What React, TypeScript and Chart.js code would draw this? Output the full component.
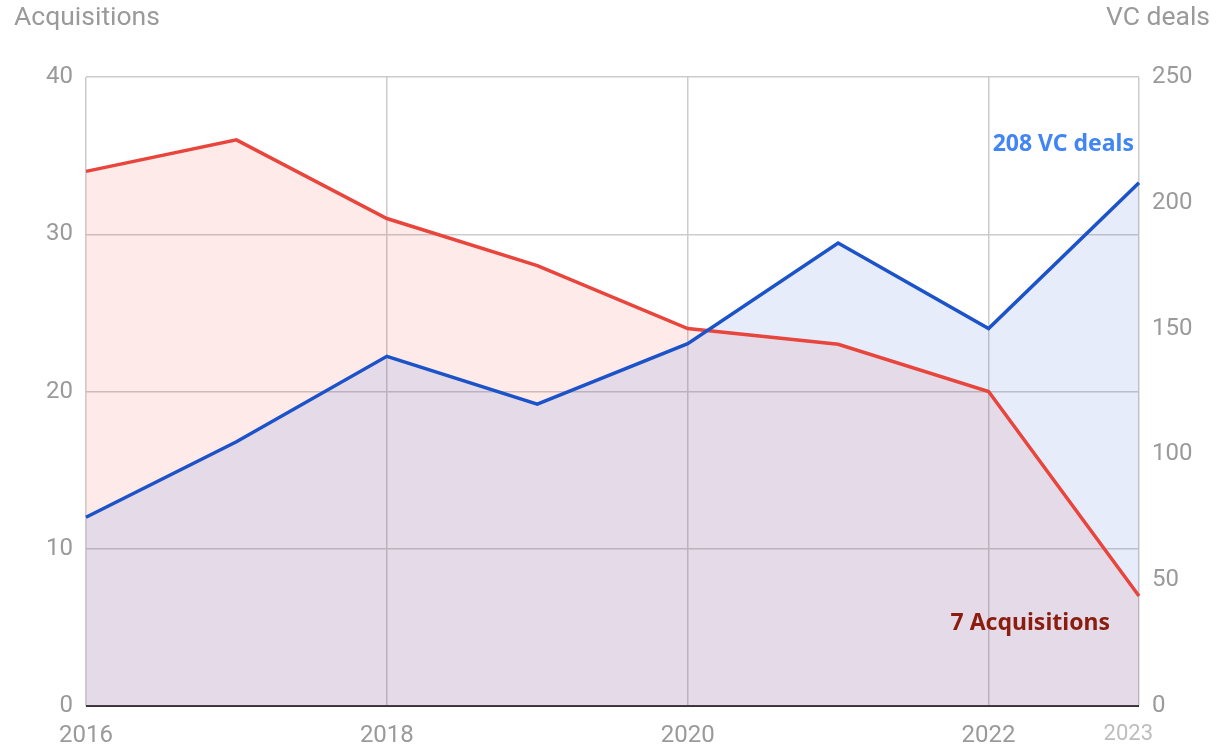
import React, { useEffect, useRef } from "react";
import { Chart, registerables } from "chart.js";

Chart.register(...registerables);

const years = ["2016", "2017", "2018", "2019", "2020", "2021", "2022", "2023"];
const acquisitions = [34, 36, 31, 28, 24, 23, 20, 7];
const vcDeals = [75, 105, 139, 120, 144, 184, 150, 208];
const shownYears = ["2016", "2018", "2020", "2022", "2023"];
const leftTicks = [0, 10, 20, 30, 40];
const rightTicks = [0, 50, 100, 150, 200, 250];

const FONT = "Roboto, 'Noto Sans', sans-serif";
const GRAY = "#9a9a9a";

const overlayPlugin = {
  id: "overlayText",
  afterDraw(chart: any) {
    const ctx = chart.ctx;
    const y = chart.scales.y;
    const y1 = chart.scales.y1;
    const x = chart.scales.x;
    ctx.save();
    ctx.font = `26.5px ${FONT}`;
    ctx.fillStyle = GRAY;
    ctx.textBaseline = "middle";
    ctx.textAlign = "left";
    ctx.fillText("Acquisitions", 14, 18);
    ctx.textAlign = "right";
    ctx.fillText("VC deals", 1210, 18);

    // x-axis labels
    const lastIdx = years.length - 1;
    years.forEach((yr, i) => {
      if (!shownYears.includes(yr)) return;
      const px = x.getPixelForValue(i);
      if (i === lastIdx) {
        ctx.font = `22px ${FONT}`;
        ctx.fillStyle = "#bdbdbd";
        ctx.textAlign = "right";
        ctx.fillText(yr, px + 14, 734);
      } else {
        ctx.font = `24px ${FONT}`;
        ctx.fillStyle = GRAY;
        ctx.textAlign = "center";
        ctx.fillText(yr, px, 736);
      }
    });

    ctx.font = `bold 23px 'Noto Sans', 'Open Sans', sans-serif`;
    ctx.fillStyle = "#4285f4";
    ctx.textAlign = "right";
    ctx.fillText(`${vcDeals[lastIdx]} VC deals`, x.getPixelForValue(lastIdx) - 5, y1.getPixelForValue(vcDeals[lastIdx]) - 38);
    ctx.fillStyle = "#8a1d0f";
    ctx.fillText(`${acquisitions[lastIdx]} Acquisitions`, x.getPixelForValue(lastIdx) - 29, y.getPixelForValue(acquisitions[lastIdx]) + 28);
    ctx.restore();
  },
};

export default function App() {
  const ref = useRef<HTMLCanvasElement>(null);
  useEffect(() => {
    document.body.style.margin = "0";
    const chart = new Chart(ref.current!, {
      type: "line",
      data: {
        labels: years,
        datasets: [
          {
            label: "VC deals",
            data: vcDeals,
            yAxisID: "y1",
            borderColor: "#1c53c9",
            backgroundColor: "rgba(66,110,220,0.13)",
            borderWidth: 3.5,
            pointRadius: 0,
            tension: 0,
            fill: "origin",
          },
          {
            label: "Acquisitions",
            data: acquisitions,
            yAxisID: "y",
            borderColor: "#e8453c",
            backgroundColor: "rgba(234,67,53,0.11)",
            borderWidth: 3.5,
            pointRadius: 0,
            tension: 0,
            fill: "origin",
          },
        ],
      },
      options: {
        animation: false,
        responsive: false,
        maintainAspectRatio: false,
        layout: { padding: { top: 77, left: 0, right: 0, bottom: 0 } },
        plugins: {
          legend: { display: false },
          tooltip: { enabled: false },
          filler: { drawTime: "beforeDatasetsDraw" },
        } as any,
        scales: {
          x: {
            type: "category",
            offset: false,
            border: { display: false },
            grid: {
              color: (c: any) => (shownYears.includes(years[c.index]) ? "#cccccc" : "rgba(0,0,0,0)"),
              lineWidth: 1.5,
              drawTicks: false,
            },
            ticks: {
              autoSkip: false,
              maxRotation: 0,
              padding: 6,
              font: { family: FONT, size: 24 },
              color: "rgba(0,0,0,0)",
              callback: () => "",
            },
            afterFit: (s: any) => {
              s.height = 41;
            },
          },
          y: {
            position: "left",
            min: 0,
            max: 40,
            border: { display: false },
            grid: {
              color: (c: any) => (c.tick && c.tick.value === 0 ? "#333333" : "#cccccc"),
              lineWidth: (c: any) => (c.tick && c.tick.value === 0 ? 2 : 1.5),
              drawTicks: false,
            },
            afterBuildTicks: (s: any) => {
              s.ticks = leftTicks.map((v) => ({ value: v }));
            },
            ticks: { padding: 13, font: { family: FONT, size: 24 }, color: GRAY },
            afterFit: (s: any) => {
              s.width = 86;
            },
          },
          y1: {
            position: "right",
            min: 0,
            max: 250,
            border: { display: false },
            grid: { display: false, drawTicks: false },
            afterBuildTicks: (s: any) => {
              s.ticks = rightTicks.map((v) => ({ value: v }));
            },
            ticks: { padding: 13, font: { family: FONT, size: 24 }, color: GRAY },
            afterFit: (s: any) => {
              s.width = 87;
            },
          },
        },
      },
      plugins: [overlayPlugin],
    });
    return () => chart.destroy();
  }, []);
  return (
    <div style={{ position: "fixed", left: 0, top: 0, width: 1226, height: 747 }}>
      <canvas ref={ref} width={1226} height={747} style={{ width: 1226, height: 747 }} />
    </div>
  );
}
